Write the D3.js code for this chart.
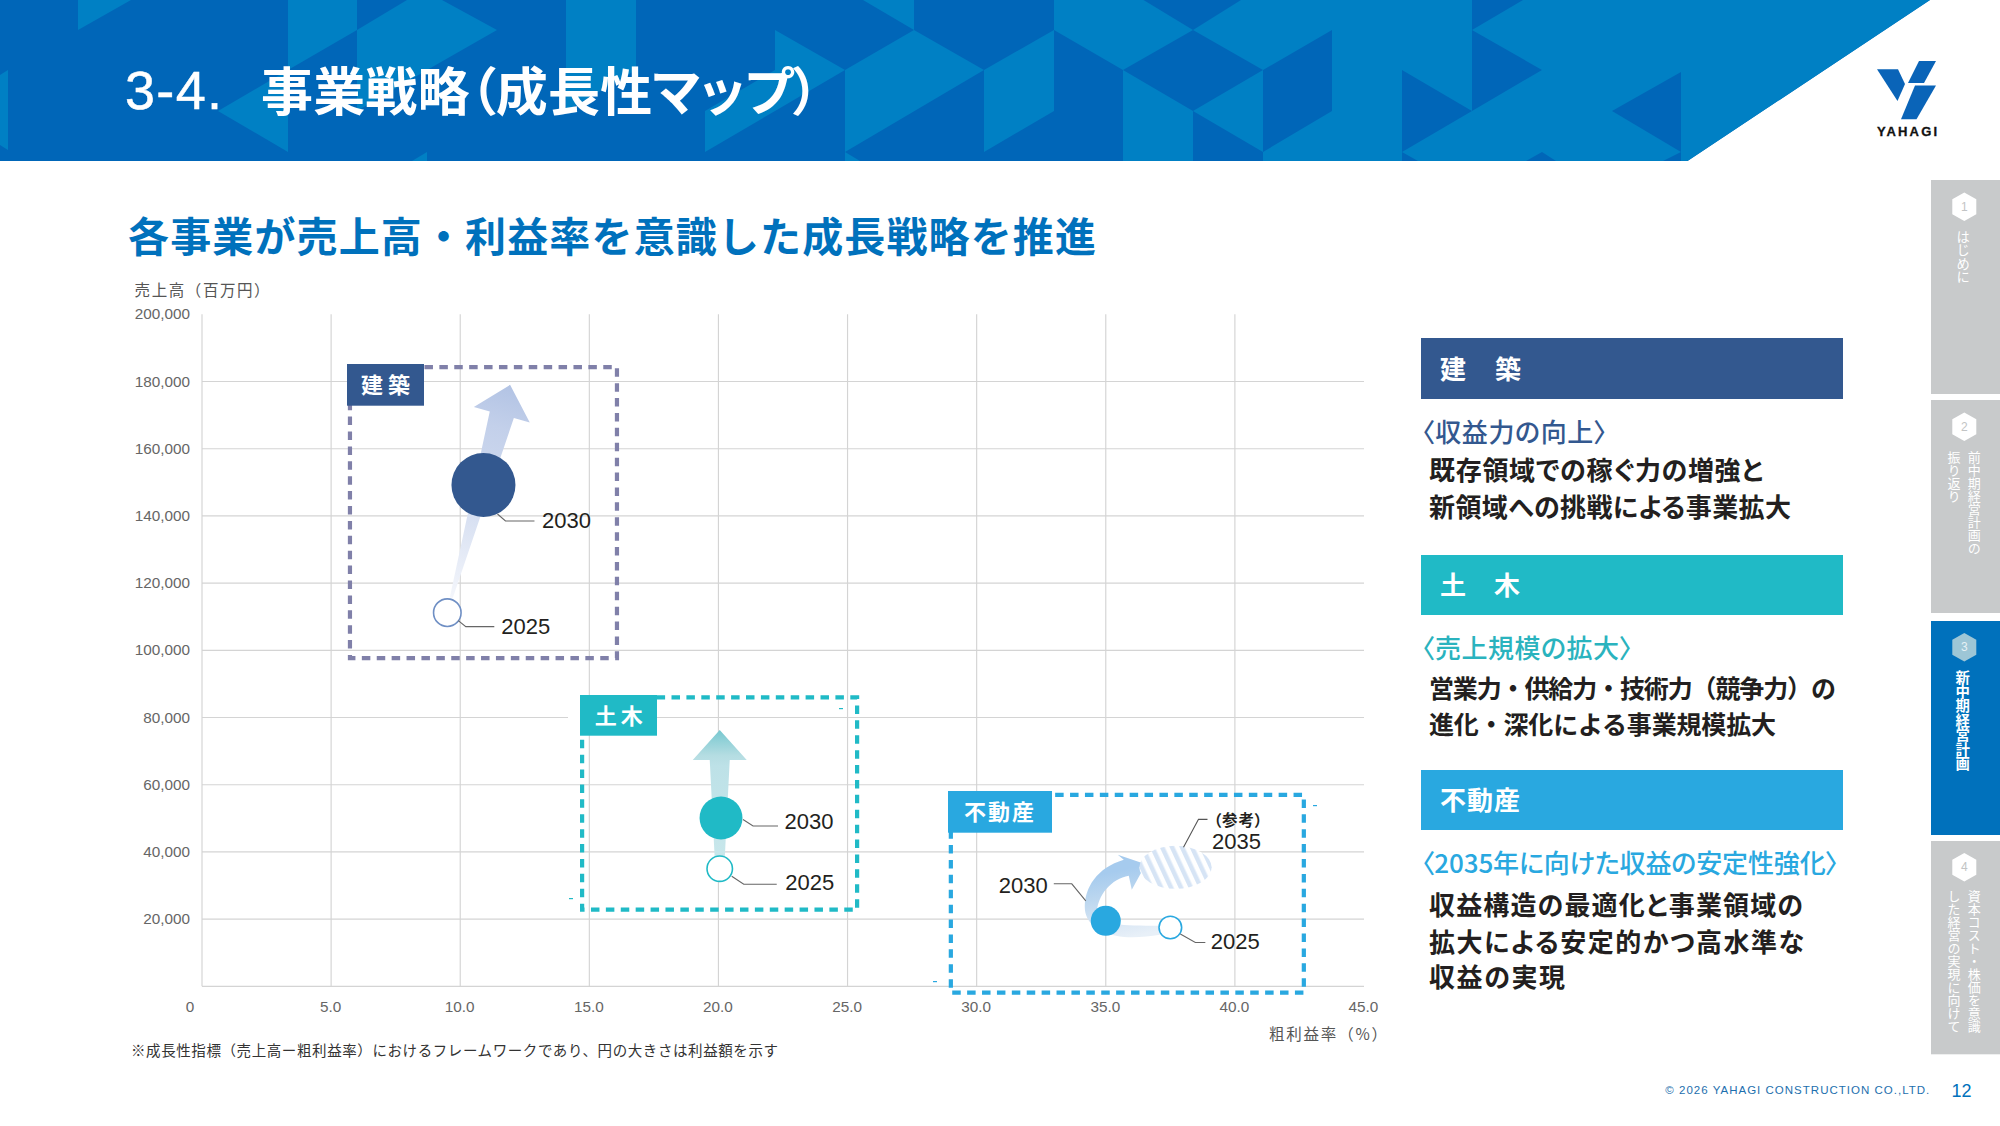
<!DOCTYPE html>
<html lang="ja"><head><meta charset="utf-8">
<script src="https://cdn.jsdelivr.net/npm/d3@7"></script>
<style>
html,body{margin:0;padding:0;background:#fff;overflow:hidden}
svg{display:block}
text{font-family:"Liberation Sans","Noto Sans CJK JP",sans-serif}
.jp{font-family:"Noto Sans CJK JP",sans-serif;font-feature-settings:"palt"}
.jp0{font-family:"Noto Sans CJK JP",sans-serif}
</style></head><body>
<svg id="c" width="2000" height="1126" viewBox="0 0 2000 1126" xmlns="http://www.w3.org/2000/svg"></svg>
<script>
// ---------- data ----------
const segments      = ['建築','土木','不動産'];
const margin2025    = [9.5, 20.05, 37.5];      // gross margin %
const sales2025     = [111200, 35000, 17500];  // sales, million yen
const margin2030    = [10.9, 20.1, 35.0];
const sales2030     = [149200, 50100, 19500];
const profit2025    = [18.5, 15.8, 12.5];      // relative bubble size
const profit2030    = [100, 45, 22];
const arrowTipX     = [11.93, 20.05];
const arrowTipY     = [179000, 76300];
const ref2035X      = 37.7, ref2035Y = 35400, ref2035XSpan = [36.3, 39.1], ref2035YSpan = [29000, 41800];
const boxMargin     = [[5.73,16.07],[14.72,25.37],[29.0,42.67]];
const boxSales      = [[97700,184300],[22800,86000],[-1900,57000]];
const xTickValues   = [0,5,10,15,20,25,30,35,40,45];
const yTickValues   = [20000,40000,60000,80000,100000,120000,140000,160000,180000,200000];
const panelHeads    = ['建　築','土　木','不動産'];
const panelSubs     = ['〈収益力の向上〉','〈売上規模の拡大〉','〈2035年に向けた収益の安定性強化〉'];
const panelBodies   = [
  ['既存領域での稼ぐ力の増強と','新領域への挑戦による事業拡大'],
  ['営業力・供給力・技術力（競争力）の','進化・深化による事業規模拡大'],
  ['収益構造の最適化と事業領域の','拡大による安定的かつ高水準な','収益の実現']];
const navNumbers    = ['1','2','3','4'];
const navLabels     = [['はじめに'],['前中期経営計画の','振り返り'],['新中期経営計画'],['資本コスト・株価を意識','した経営の実現に向けて']];

// ---------- helpers ----------
const svg = d3.select('#c');
const defs = svg.append('defs');
const colors = ['#33588f','#20bac6','#29a8e0'];
const dashColors = ['#8080a9','#20bac6','#29a8e0'];
function T(g,x,y,s,o={}){
  const isJp=o.jp!==false;
  const n=g.append('text').attr('x',x).attr('y',isJp?y-1.5:y).text(s)
    .attr('font-size',o.size||16).attr('fill',o.fill||'#231f20')
    .attr('font-weight',o.weight||400).attr('text-anchor',o.anchor||'start')
    .attr('dominant-baseline',o.base||'central');
  if(isJp) n.attr('class',o.palt===false?'jp0':'jp');
  if(o.len) n.attr('textLength',o.len).attr('lengthAdjust','spacing');
  if(o.ls) n.attr('letter-spacing',o.ls);
  if(o.stroke) n.attr('stroke',o.fill||'#231f20').attr('stroke-width',o.stroke);
  return n;
}
function grad(id,x1,y1,x2,y2,stops){
  const g=defs.append('linearGradient').attr('id',id).attr('gradientUnits','userSpaceOnUse')
    .attr('x1',x1).attr('y1',y1).attr('x2',x2).attr('y2',y2);
  stops.forEach(s=>g.append('stop').attr('offset',s[0]).attr('stop-color',s[1]));
}
const poly=(g,pts,fill)=>g.append('polygon').attr('points',pts.map(p=>p.join(',')).join(' ')).attr('fill',fill);

// ---------- header band ----------
const head=svg.append('g');
const DARK='#0066b8',LIGHT='#0080c4';
poly(head,[[0,0],[1930,0],[1687.5,161],[0,161]],DARK);
[
 [[0,75],[8,70],[8,150],[0,145]],
 [[78,0],[131,0],[78,30]],
 [[218,111],[288,70],[288,152]],
 [[288,0],[357,0],[357,30],[288,70]],
 [[357,30],[407,0],[442,0],[497,30],[427,70],[357,111]],
 [[412,161],[427,152],[427,161]],
 [[566,0],[636,0],[636,70],[566,111]],
 [[726,0],[775,30],[845,70],[775,111],[705,152],[705,111],[775,70],[775,30]],
 [[845,70],[914,30],[984,70],[845,152]],
 [[845,152],[860,161],[845,161]],
 [[863,0],[914,0],[914,30]],
 [[984,70],[1054,30],[1054,111],[984,152]],
 [[1054,0],[1930,0],[1687.5,161],[1123,161],[1123,70],[1054,30]]
].forEach(p=>poly(head,p,LIGHT));
[
 [[1143.5,0],[1241,0],[1193,30]],
 [[1193,30],[1263,70],[1193,111],[1123,70]],
 [[1193,111],[1263,152],[1263,161],[1193,161]],
 [[1263,70],[1332,30],[1332,111],[1263,152]],
 [[1402,70],[1472,111],[1402,152]],
 [[1472,0],[1523,0],[1472,30]],
 [[1472,30],[1542,70],[1472,111]],
 [[1681,72],[1681,152],[1612,111]],
 [[1526,161],[1542,152],[1556,161]],
 [[1402,152],[1418,161],[1402,161]],
 [[1681,152],[1663,161],[1681,161]]
].forEach(p=>poly(head,p,DARK));
T(head,125,90,'3-4.',{size:54,fill:'#fff',jp:false,len:97,stroke:0.5});
T(head,261,90,'事業戦略（成長性マップ）',{size:52,fill:'#fff',weight:700,len:558});
// logo
poly(head,[[1877,69.3],[1898,69.3],[1905,84],[1897.5,101]],'#0a64b8');
poly(head,[[1919,61],[1936,61],[1924,83],[1908,83]],'#0a64b8');
poly(head,[[1915,85.5],[1936,85.5],[1916.5,119.3],[1901,119.3]],'#0a64b8');
T(head,1907,131,'YAHAGI',{size:13,weight:700,anchor:'middle',jp:false,fill:'#111',len:60,stroke:0.3});

// ---------- heading ----------
T(svg,128,235,'各事業が売上高・利益率を意識した成長戦略を推進',{size:41,weight:700,fill:'#0071bc',len:968,palt:false});

// ---------- chart ----------
const x=d3.scaleLinear().domain([0,45]).range([202,1364]);
const y=d3.scaleLinear().domain([0,200000]).range([986.3,314.3]);
const size=d3.scaleSqrt().domain([0,100]).range([0,32]);
const chart=svg.append('g');
const GRID='#d4d4d4',AX='#666';
const gy=chart.append('g').attr('transform','translate(202,0)')
  .call(d3.axisLeft(y).tickValues(yTickValues).tickFormat(d3.format(',')).tickSize(0).tickPadding(12).offset(0));
gy.select('.domain').remove();
gy.selectAll('text').attr('font-size',15.3).attr('fill',AX).attr('dy','0.33em').attr('font-family','Liberation Sans');
const gx=chart.append('g').attr('transform','translate(0,986.3)')
  .call(d3.axisBottom(x).tickValues(xTickValues).tickFormat(d=>d===0?'0':d3.format('.1f')(d)).tickSize(0).tickPadding(0).offset(0));
gx.select('.domain').remove();
gx.selectAll('text').attr('font-size',15.3).attr('fill',AX).attr('y',26).attr('dy','0').attr('font-family','Liberation Sans')
  .attr('dx',d=>d===0?-12:-0.5);
const grid=chart.append('g').attr('stroke',GRID).attr('stroke-width',1.15);
grid.selectAll('.h').data(yTickValues.filter(d=>d<200000).concat([0])).join('line').attr('class','h')
  .attr('x1',x(0)).attr('x2',x(45)).attr('y1',d=>y(d)).attr('y2',d=>y(d));
grid.selectAll('.v').data(xTickValues.filter(d=>d<45)).join('line').attr('class','v')
  .attr('x1',d=>x(d)).attr('x2',d=>x(d)).attr('y1',y(200000)).attr('y2',y(0));

T(chart,134.6,290,'売上高（百万円）',{size:15.5,fill:'#555',len:135,palt:false});
T(chart,1269,1034.5,'粗利益率（%）',{size:15.5,fill:'#555',len:118,palt:false});
T(chart,131,1051,'※成長性指標（売上高ー粗利益率）におけるフレームワークであり、円の大きさは利益額を示す',{size:14.5,fill:'#333',len:647,palt:false});

// gap in grid beside the 土木 label
chart.append('rect').attr('x',568).attr('y',714).attr('width',12).attr('height',6).attr('fill','#fff');

// dashed boxes
chart.selectAll('.box').data(segments).join('rect').attr('class','box')
  .attr('x',(d,i)=>x(boxMargin[i][0])).attr('y',(d,i)=>y(boxSales[i][1]))
  .attr('width',(d,i)=>x(boxMargin[i][1])-x(boxMargin[i][0]))
  .attr('height',(d,i)=>y(boxSales[i][0])-y(boxSales[i][1]))
  .attr('fill','none').attr('stroke',(d,i)=>dashColors[i]).attr('stroke-width',4.2)
  .attr('stroke-dasharray','8.5 6.4');

// straight arrows (tail = 2025 bubble direction, tip)
function arrow(i,id,tail,hl,hw,sw0,sw1,stops){
  const tx=x(arrowTipX[i]),ty=y(arrowTipY[i]);
  const dx=tx-tail[0],dy=ty-tail[1],L=Math.hypot(dx,dy),ux=dx/L,uy=dy/L,nx=-uy,ny=ux;
  const bx=tx-ux*hl,by=ty-uy*hl;
  grad(id,tail[0],tail[1],tx,ty,stops);
  const pts=[[tail[0]+nx*sw0,tail[1]+ny*sw0],[bx+nx*sw1,by+ny*sw1],[bx+nx*hw,by+ny*hw],[tx,ty],
             [bx-nx*hw,by-ny*hw],[bx-nx*sw1,by-ny*sw1],[tail[0]-nx*sw0,tail[1]-ny*sw0]];
  poly(chart,pts,`url(#${id})`);
}
arrow(0,'a0',[x(margin2025[0])+4,y(sales2025[0])-15],31,29,1.5,12.5,[[0,'#f4f6fb'],[0.45,'#d2dcf0'],[0.8,'#c3d0ea'],[1,'#b2c3e4']]);
arrow(1,'a1',[x(margin2025[1]),y(sales2025[1])-10],30,27,5,10,[[0,'#c8e7eb'],[0.72,'#bde1e7'],[0.8,'#b5dde2'],[1,'#77c8d0']]);

// curved arrow for 不動産 (anchored on the 2030 bubble)
const cx=x(margin2030[2]),cy=y(sales2030[2]);
const cp=d3.path();
cp.moveTo(cx+54,cy+14);
cp.bezierCurveTo(cx+40,cy+16,cx+25,cy+18,cx+10,cy+15);
cp.bezierCurveTo(cx-8,cy+11,cx-21,cy+2,cx-21,cy-14);
cp.bezierCurveTo(cx-21,cy-33,cx-9,cy-53,cx+18,cy-61);
cp.lineTo(cx+12,cy-66);
cp.lineTo(cx+40,cy-56.5);
cp.lineTo(cx+26,cy-31);
cp.lineTo(cx+23,cy-45);
cp.bezierCurveTo(cx+6,cy-42,cx-9,cy-26,cx-9,cy-6);
cp.bezierCurveTo(cx-4,cy+4,cx+15,cy+5,cx+54,cy+5);
cp.closePath();
grad('a2',cx+54,cy+10,cx+40,cy-56,[[0,'#e8f0f8'],[0.3,'#d5e4f4'],[0.65,'#bcd7ef'],[1,'#a6cbee']]);
chart.append('path').attr('d',cp.toString()).attr('fill','url(#a2)');

// 2035 hatched ellipse
const pat=defs.append('pattern').attr('id','hatch').attr('patternUnits','userSpaceOnUse')
  .attr('width',9).attr('height',9).attr('patternTransform','rotate(-25)');
pat.append('rect').attr('width',9).attr('height',9).attr('fill','#fff');
pat.append('rect').attr('width',4.5).attr('height',9).attr('fill','#d6e4f5');
chart.append('ellipse').attr('cx',x(ref2035X)).attr('cy',y(ref2035Y))
  .attr('rx',(x(ref2035XSpan[1])-x(ref2035XSpan[0]))/2).attr('ry',(y(ref2035YSpan[0])-y(ref2035YSpan[1]))/2)
  .attr('fill','url(#hatch)');

// bubbles
chart.selectAll('.b30').data(segments).join('circle').attr('class','b30')
  .attr('cx',(d,i)=>x(margin2030[i])).attr('cy',(d,i)=>y(sales2030[i])).attr('r',(d,i)=>size(profit2030[i]))
  .attr('fill',(d,i)=>colors[i]);
const ring=['#6f8fc4','#20bac6','#29a8e0'];
chart.selectAll('.b25').data(segments).join('circle').attr('class','b25')
  .attr('cx',(d,i)=>x(margin2025[i])).attr('cy',(d,i)=>y(sales2025[i])).attr('r',(d,i)=>size(profit2025[i]))
  .attr('fill','#fff').attr('stroke',(d,i)=>ring[i]).attr('stroke-width',1.6);

// leaders + year labels (offset from each bubble)
const leaders=[
 [0,'30',[[14,29],[22,36],[51,36]],[58.5,36],'2030'],
 [0,'25',[[11,8],[18.5,14],[47,14]],[54,14],'2025'],
 [1,'30',[[22,1.5],[32,8],[57,8]],[63.5,4],'2030'],
 [1,'25',[[12,7.5],[24,15.5],[57,15.5]],[65.5,14],'2025'],
 [2,'30',[[-20,-20],[-34,-37],[-52,-37]],[-107,-35],'2030'],
 [2,'25',[[10,6.5],[25,15],[35,15]],[40.5,14]  ,'2025']
];
leaders.forEach(l=>{
  const i=l[0],ax=l[1]==='30'?x(margin2030[i]):x(margin2025[i]),ay=l[1]==='30'?y(sales2030[i]):y(sales2025[i]);
  chart.append('polyline').attr('points',l[2].map(p=>[ax+p[0],ay+p[1]].join(',')).join(' '))
    .attr('fill','none').attr('stroke','#666').attr('stroke-width',1.1);
  T(chart,ax+l[3][0],ay+l[3][1],l[4],{size:22,jp:false});
});
const ex=x(ref2035X),ey=y(ref2035Y);
chart.append('polyline').attr('points',[[ex+8,ey-20],[ex+23,ey-48],[ex+32,ey-48]].map(p=>p.join(',')).join(' '))
  .attr('fill','none').attr('stroke','#555').attr('stroke-width',1.1);
T(chart,ex+36.5,ey-25.5,'2035',{size:22,jp:false});
T(chart,ex+38,ey-46.5,'（参考）',{size:15.5,weight:700,len:49});

// segment labels on boxes
const tagRects=[[347,364,77,41.7,385.5,49],[580,695,77,40.7,618.8,48],[948,791,104,41.7,999,70]];
segments.forEach((s,i)=>{
  const r=tagRects[i];
  chart.append('rect').attr('x',r[0]).attr('y',r[1]).attr('width',r[2]).attr('height',r[3]).attr('fill',colors[i]);
  T(chart,r[4]-r[5]/2,r[1]+r[3]/2,s,{size:22,weight:700,fill:'#fff',len:r[5]});
});
// tiny stray dashes
[[839,708,1],[569,898,1],[1313,805,2],[933,981,2]].forEach(d=>{
  chart.append('rect').attr('x',d[0]).attr('y',d[1]).attr('width',4).attr('height',1.2).attr('fill',colors[d[2]]);
});

// ---------- right panels ----------
const panel=svg.append('g');
const panelColors=['#33588f','#20bac6','#29a8e0'];
const subColors=['#33588f','#2ab3be','#29a8e0'];
const heads=[[338,61],[555,60],[770,60]];
const headLens=[81,80,80];
const subY=[431.7,648.3,863.3], subLen=[185.5,211,417];
const bodyY=[[469.7,506.7],[688.3,724],[905,941.7,977.3]];
const bodyLen=[[334,362],[407,347],[374,375,136]];
const bodyPalt=[[true,true],[false,false],[true,true,true]];
panelHeads.forEach((h,i)=>{
  panel.append('rect').attr('x',1421).attr('y',heads[i][0]).attr('width',422).attr('height',heads[i][1]).attr('fill',panelColors[i]);
  T(panel,1440,heads[i][0]+heads[i][1]/2,h,{size:26,weight:700,fill:'#fff',len:headLens[i]});
  T(panel,1421.5,subY[i],panelSubs[i],{size:26,weight:500,fill:subColors[i],len:subLen[i]});
  panelBodies[i].forEach((b,k)=>T(panel,1429,bodyY[i][k],b,{size:bodyPalt[i][k]?26:25,weight:700,fill:'#231f20',len:bodyLen[i][k],palt:bodyPalt[i][k]}));
});

// ---------- side navigation ----------
const nav=svg.append('g');
const tabs=[[180,214],[400,213],[621,214],[841,213.3]];
const navHex=[206.7,426.7,647.3,867.3];
const navCols=[[1963.2],[1974.3,1954],[1962.6],[1974.3,1954]];
const navStart=[230,451,670,889.3];
const navSize=[13.4,13,14.4,13];
tabs.forEach((t,i)=>{
  const active=i===2;
  nav.append('rect').attr('x',1931).attr('y',t[0]).attr('width',69).attr('height',t[1]).attr('fill',active?'#0071bc':'#c8cacb');
  const hx=1964.3,hy=navHex[i];
  poly(nav,[[hx,hy-14.3],[hx+12,hy-7.5],[hx+12,hy+7.5],[hx,hy+14.3],[hx-12,hy+7.5],[hx-12,hy-7.5]],active?'#9dc6d6':'#fff');
  T(nav,hx,hy,navNumbers[i],{size:12,anchor:'middle',fill:active?'#e6f1f5':'#c2c4c5',jp:false});
  navLabels[i].forEach((s,k)=>{
    nav.append('text').attr('class','jp0').attr('x',navCols[i][k]).attr('y',navStart[i]).text(s)
      .attr('font-size',navSize[i]).attr('fill','#fff').attr('font-weight',active?700:400)
      .style('writing-mode','vertical-rl');
  });
});

// ---------- footer ----------
T(svg,1665.3,1090.3,'© 2026 YAHAGI CONSTRUCTION CO.,LTD.',{size:11.5,fill:'#1d6fae',jp:false,len:264});
T(svg,1951.5,1090.7,'12',{size:18,fill:'#0071bc',jp:false});
</script>
</body></html>
